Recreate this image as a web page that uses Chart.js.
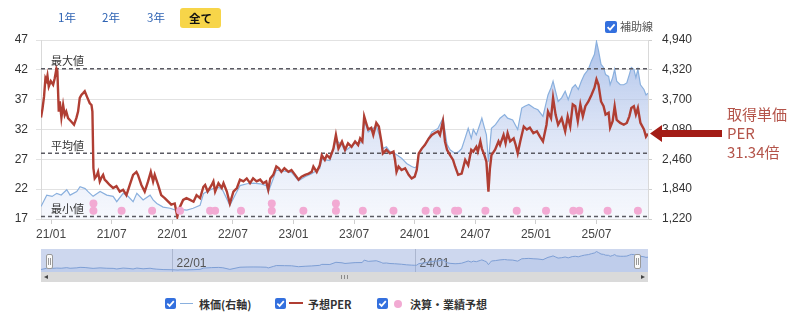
<!DOCTYPE html>
<html>
<head>
<meta charset="utf-8">
<script src="https://cdn.jsdelivr.net/npm/chart.js@4.4.1/dist/chart.umd.min.js"></script>
<style>
  body { margin: 0; background: #fff; font-family: 'Noto Sans CJK JP', 'Liberation Sans', sans-serif; }
  #wrap { position: relative; width: 800px; height: 326px; overflow: hidden; }
  #main { position: absolute; left: 0; top: 0; }
  #nav { position: absolute; left: 41px; top: 249px; }
  .rng { position: absolute; top: 9px; font-size: 11.5px; line-height: 16px; color: #2d62b3; }
  .all { left: 180px; top: 8px; width: 41px; height: 20px; line-height: 20px; background: #f7d549;
         border-radius: 3px; text-align: center; color: #111; font-weight: 700; }
  .cb { position: absolute; width: 12px; height: 12px; background: #3470de; border-radius: 2px; }
  .cb svg { display: block; }
  .txt { position: absolute; font-size: 11px; line-height: 14px; color: #333; white-space: nowrap; }
  .bold { font-weight: 600; }
  .handle { position: absolute; top: 254px; width: 5px; height: 13px; background: #fafafa;
            border: 1px solid #9a9a9a; border-radius: 2px; }
  .handle::before, .handle::after { content: ''; position: absolute; top: 3px; width: 1px; height: 7px; background: #9a9a9a; }
  .handle::before { left: 1px; } .handle::after { left: 3px; }
  #track { position: absolute; left: 41px; top: 272px; width: 607px; height: 10px; background: #dadada; }
  .tri { position: absolute; top: 3px; width: 0; height: 0; border-top: 2.5px solid transparent; border-bottom: 2.5px solid transparent; }
  .grip { position: absolute; top: 3px; width: 1px; height: 4px; background: #8a8a8a; }
</style>
</head>
<body>
<div id="wrap">
  <canvas id="main" width="800" height="245"></canvas>
  <canvas id="nav" width="607" height="23"></canvas>

  <div class="rng" style="left:58px">1年</div>
  <div class="rng" style="left:102px">2年</div>
  <div class="rng" style="left:147px">3年</div>
  <div class="rng all">全て</div>

  <div class="cb" style="left:605px;top:21px"><svg width="12" height="12"><path d="M2.6 6.2 L5 8.6 L9.6 3.4" stroke="#fff" stroke-width="1.8" fill="none"/></svg></div>
  <div class="txt" style="left:620px;top:19px;color:#555">補助線</div>

  <div class="handle" style="left:46px"></div>
  <div class="handle" style="left:634px"></div>
  <div id="track">
    <div class="tri" style="left:3px;border-right:4px solid #444"></div>
    <div class="grip" style="left:300px"></div>
    <div class="grip" style="left:303px"></div>
    <div class="grip" style="left:306px"></div>
    <div class="tri" style="left:600px;border-left:4px solid #444"></div>
  </div>

  <div class="cb" style="left:165px;top:298px;width:11px;height:11px"><svg width="11" height="11"><path d="M2.3 5.6 L4.6 7.9 L8.8 3.1" stroke="#fff" stroke-width="1.7" fill="none"/></svg></div>
  <div style="position:absolute;left:180px;top:302.5px;width:13px;height:1.5px;background:#8ab0de"></div>
  <div class="txt bold" style="left:199px;top:296.5px">株価(右軸)</div>

  <div class="cb" style="left:275px;top:298px;width:11px;height:11px"><svg width="11" height="11"><path d="M2.3 5.6 L4.6 7.9 L8.8 3.1" stroke="#fff" stroke-width="1.7" fill="none"/></svg></div>
  <div style="position:absolute;left:289px;top:302px;width:14px;height:2px;background:#b03e33"></div>
  <div class="txt bold" style="left:308px;top:296.5px">予想PER</div>

  <div class="cb" style="left:377px;top:298px;width:11px;height:11px"><svg width="11" height="11"><path d="M2.3 5.6 L4.6 7.9 L8.8 3.1" stroke="#fff" stroke-width="1.7" fill="none"/></svg></div>
  <div style="position:absolute;left:394px;top:299.5px;width:8px;height:8px;border-radius:50%;background:#f2aad3"></div>
  <div class="txt bold" style="left:410px;top:296.5px">決算・業績予想</div>
</div>

<script>
// Months counted from January 2021 (0 = 21/01)
const xTickMonths = [0, 6, 12, 18, 24, 30, 36, 42, 48, 54];
const xTickLabels = ['21/01', '21/07', '22/01', '22/07', '23/01', '23/07', '24/01', '24/07', '25/01', '25/07'];
const navTickMonths = [12, 36];
const navTickLabels = ['22/01', '24/01'];

// Forecast PER (left axis)
const perMonths = [-1.0,-0.85,-0.7,-0.56,-0.45,-0.36,-0.23,-0.03,0.2,0.36,0.53,0.62,0.76,0.86,1.02,1.19,1.35,1.5,1.68,2.01,2.27,2.5,2.67,2.84,3.0,3.17,3.33,3.6,3.83,4.0,4.09,4.19,4.32,4.5,4.65,4.82,5.0,5.15,5.3,5.48,5.8,6.14,6.47,6.8,7.13,7.46,7.79,8.12,8.45,8.6,8.94,9.27,9.6,9.87,10.1,10.26,10.6,10.9,11.25,11.6,11.9,12.24,12.5,12.7,13.07,13.4,13.76,14.1,14.4,14.75,15.08,15.25,15.5,15.9,16.07,16.24,16.57,16.9,17.07,17.4,17.7,18.05,18.4,18.7,19.04,19.37,19.7,20.0,20.35,20.7,21.0,21.3,21.5,21.7,22.0,22.3,22.55,22.8,23.1,23.5,23.8,24.16,24.5,24.8,25.15,25.5,25.8,25.97,26.3,26.6,26.8,27.1,27.3,27.6,27.95,28.2,28.45,28.8,29.1,29.4,29.75,30.1,30.4,30.6,30.82,31.0,31.25,31.4,31.7,31.9,32.2,32.45,32.7,32.85,33.2,33.55,33.9,34.05,34.2,34.4,34.7,35.05,35.4,35.7,36.0,36.2,36.4,36.7,37.0,37.4,37.7,38.0,38.3,38.5,38.8,39.0,39.2,39.5,39.8,40.0,40.3,40.65,41.0,41.3,41.6,41.8,42.1,42.25,42.5,42.65,42.9,43.1,43.3,43.45,43.6,43.96,44.3,44.45,44.8,45.0,45.2,45.45,45.8,46.0,46.2,46.45,46.8,47.1,47.4,47.75,48.1,48.4,48.7,49.05,49.2,49.5,49.7,49.95,50.2,50.55,50.9,51.15,51.4,51.65,51.9,52.15,52.4,52.65,52.9,53.2,53.5,53.8,54.0,54.2,54.45,54.7,54.9,55.2,55.35,55.6,55.8,56.0,56.35,56.7,57.0,57.25,57.45,57.7,57.9,58.1,58.35,58.7,58.9,59.1];
const perValues = [34.0,35.5,37.5,40.6,40.2,41.0,39.2,40.1,39.5,40.6,42.2,41.8,35.0,36.7,34.0,36.1,34.4,35.0,33.9,33.3,32.8,33.9,35.0,37.3,37.8,38.1,38.4,37.3,36.4,36.1,35.0,25.5,23.8,24.2,24.9,23.3,24.0,24.4,23.6,23.3,22.7,22.2,22.5,21.6,21.9,21.0,22.7,24.4,24.9,24.4,22.7,21.6,23.3,24.9,23.3,24.4,22.7,21.0,20.5,19.9,19.4,19.6,17.4,18.8,20.2,20.5,20.2,19.9,21.0,20.5,22.4,22.7,21.6,22.7,23.3,21.6,23.0,22.2,23.0,21.6,19.6,21.6,22.2,23.6,23.3,23.8,23.0,23.8,23.3,23.6,23.0,23.3,21.9,23.8,24.4,25.8,25.5,24.9,25.5,24.9,25.2,24.4,23.6,24.1,24.4,24.6,24.9,25.8,24.9,26.0,27.7,26.9,27.7,27.2,28.8,31.1,28.8,30.0,28.6,29.7,29.1,30.0,29.4,30.5,30.0,34.2,32.8,32.0,32.3,31.1,33.1,32.5,30.0,28.0,28.6,28.0,28.3,26.9,24.9,25.8,25.2,25.5,24.4,23.8,24.1,25.2,28.0,28.8,29.4,30.5,31.1,31.4,31.7,31.1,33.4,30.0,28.6,27.7,26.9,25.8,24.4,24.6,26.9,26.0,28.6,28.3,29.1,28.3,30.0,28.8,27.7,26.6,21.6,25.5,27.7,28.6,30.0,29.4,31.1,29.7,31.4,30.0,30.5,29.4,28.0,30.0,32.5,32.0,32.3,31.4,31.7,30.8,30.0,32.8,35.0,33.9,37.3,34.5,32.8,33.9,31.7,34.2,32.5,36.2,35.9,33.4,36.2,34.2,35.9,36.7,37.8,39.0,40.4,39.5,36.7,35.9,34.5,34.8,32.3,33.4,35.9,33.6,33.1,32.8,33.1,34.2,35.6,35.9,34.5,35.6,33.1,32.0,30.8,31.3];

// Share price in yen (right axis)
const priceMonths = [-1.0,-0.43,0.1,0.56,1.0,1.55,1.88,2.54,2.87,3.37,3.66,4.16,4.85,5.51,6.14,6.5,7.13,7.62,8.12,8.49,9.11,9.8,10.1,10.47,11.09,11.78,12.28,12.57,12.77,13.44,14.06,14.75,15.1,15.9,16.6,17.0,17.7,18.4,18.7,19.4,20.0,20.7,21.3,21.5,22.0,22.3,23.1,23.8,24.5,25.15,25.8,26.6,26.8,27.6,28.2,28.8,29.1,30.1,30.8,31.0,31.4,32.2,32.7,32.85,33.2,33.55,34.0,34.7,35.2,35.7,36.0,36.2,36.4,37.0,37.7,38.3,38.8,39.2,39.5,40.0,40.3,40.65,41.0,41.3,41.6,41.8,42.1,42.5,42.65,42.9,43.1,43.3,43.45,43.6,44.0,44.45,44.9,45.2,45.7,46.2,46.6,46.9,47.3,47.8,48.2,48.7,49.2,49.5,49.7,49.95,50.2,50.55,50.9,51.2,51.6,51.9,52.2,52.5,52.8,53.2,53.5,53.8,54.0,54.2,54.45,54.7,54.9,55.2,55.35,55.6,55.8,56.0,56.35,56.7,57.0,57.25,57.45,57.7,57.9,58.1,58.35,58.7,58.9,59.1];
const priceValues = [1480,1716,1690,1753,1720,1828,1716,1790,1890,1852,1790,1691,1790,1716,1691,1580,1753,1691,1580,1753,1617,1716,1617,1542,1468,1443,1406,1369,1418,1406,1443,1505,1753,1840,1877,1815,1505,1790,1914,1952,1964,1952,1914,1778,2063,2237,2212,2187,2014,2100,2162,2274,2460,2435,2857,2758,2634,2795,2807,3278,3030,3154,2832,2683,2720,2621,2584,2485,2373,2311,2286,2311,2584,2758,3028,3103,3314,2770,2658,2584,2609,2683,2906,3103,2894,3080,2968,3216,3316,3117,2968,2410,2758,3103,3180,3314,3390,3316,3278,3080,3526,3564,3601,3526,3489,3353,3799,3948,4084,3874,3663,3737,3874,3700,3948,4010,3911,4084,4221,4332,4506,4642,4911,4717,4432,4370,4221,4184,4010,4159,4332,4084,4010,4010,4047,4221,4370,4332,4159,4332,4010,3911,3799,3836];

// Earnings results / forecast revision dates (stack = how many on the same date, 0-based row)
const eventMonths = [4.19,4.19,6.98,10.0,12.77,15.74,16.24,18.8,21.85,21.85,24.98,28.2,28.2,30.86,33.9,37.08,38.19,40.0,40.3,43.0,46.1,49.0,51.7,52.3,55.1,58.1];
const eventStack  = [0,1,0,0,0,0,0,0,0,1,0,0,1,0,0,0,0,0,0,0,0,0,0,0,0,0];

const perAverage = 28.0;
const acquisitionPER = 31.34;

const guideValues = [Math.max(...perValues), perAverage, Math.min(...perValues)];
const guideLabels = ['最大値', '平均値', '最小値'];

// Row levels for the event markers, on the PER axis
const eventRowLevel = [18.4, 19.6];

const pts = (xs, ys) => xs.map((x, i) => ({ x, y: ys[i] }));
const X_MIN = -1, X_MAX = 59.1;

Chart.defaults.font.family = "'Liberation Sans', 'Noto Sans CJK JP', sans-serif";
Chart.defaults.font.size = 12;
Chart.defaults.color = '#333';

const guidePlugin = {
  id: 'guides',
  afterDatasetDraw(chart, args) {
    if (args.index !== 2) return;
    const { ctx, chartArea: a, scales: { y } } = chart;
    ctx.save();
    ctx.strokeStyle = '#5b5b63';
    ctx.lineWidth = 1.5;
    ctx.setLineDash([4, 3]);
    guideValues.forEach(v => {
      const py = y.getPixelForValue(v);
      ctx.beginPath();
      ctx.moveTo(a.left, py);
      ctx.lineTo(a.right, py);
      ctx.stroke();
    });
    ctx.restore();
  },
  afterDatasetsDraw(chart) {
    const { ctx, chartArea: a, scales: { y } } = chart;
    ctx.save();
    ctx.font = "11px 'Noto Sans CJK JP'";
    ctx.fillStyle = '#333';
    ctx.textBaseline = 'middle';
    guideValues.forEach((v, i) => {
      ctx.fillText(guideLabels[i], a.left + 10, y.getPixelForValue(v) - 7.5);
    });
    ctx.restore();
  },
  afterDraw(chart) {
    const { ctx, chartArea: a, scales: { y } } = chart;
    const py = y.getPixelForValue(acquisitionPER);
    const tip = a.right + 2;
    ctx.save();
    ctx.fillStyle = '#a31d16';
    ctx.beginPath();
    ctx.moveTo(tip, py);
    ctx.lineTo(tip + 12, py - 8.5);
    ctx.lineTo(tip + 12, py - 3.5);
    ctx.lineTo(tip + 72, py - 3.5);
    ctx.lineTo(tip + 72, py + 3.5);
    ctx.lineTo(tip + 12, py + 3.5);
    ctx.lineTo(tip + 12, py + 8.5);
    ctx.closePath();
    ctx.fill();
    ctx.font = "15px 'Noto Sans CJK JP'";
    ctx.fillStyle = '#b4544a';
    ctx.textBaseline = 'middle';
    ctx.fillText('取得単価', 727, py - 19);
    ctx.fillText('PER', 727, py);
    ctx.fillText(acquisitionPER.toFixed(2) + '倍', 727, py + 19);
    ctx.restore();
  }
};

new Chart(document.getElementById('main'), {
  type: 'line',
  data: {
    datasets: [
      {
        label: '決算・業績予想',
        data: eventMonths.map((m, i) => ({ x: m, y: eventRowLevel[eventStack[i]] })),
        showLine: false,
        pointRadius: 4,
        pointBackgroundColor: '#f2aad3',
        pointBorderWidth: 0,
        yAxisID: 'y',
        order: 0
      },
      {
        label: '予想PER',
        data: pts(perMonths, perValues),
        borderColor: '#b03e33',
        borderWidth: 2.4,
        pointRadius: 0,
        tension: 0,
        fill: false,
        yAxisID: 'y',
        order: 1
      },
      {
        label: '株価(右軸)',
        data: pts(priceMonths, priceValues),
        borderColor: '#8ab0de',
        borderWidth: 1.2,
        pointRadius: 0,
        tension: 0,
        fill: 'start',
        backgroundColor: (c) => {
          const a = c.chart.chartArea;
          if (!a) return 'rgba(0,0,0,0)';
          const g = c.chart.ctx.createLinearGradient(0, a.top, 0, a.bottom);
          g.addColorStop(0, 'rgba(150,177,228,0.8)');
          g.addColorStop(0.5, 'rgba(190,205,238,0.55)');
          g.addColorStop(1, 'rgba(225,232,248,0.3)');
          return g;
        },
        yAxisID: 'y1',
        order: 2
      }
    ]
  },
  options: {
    responsive: false,
    animation: false,
    events: [],
    layout: { padding: { top: 40, left: 0, right: 0, bottom: 0 } },
    plugins: { legend: { display: false }, tooltip: { enabled: false } },
    scales: {
      x: {
        type: 'linear',
        min: X_MIN,
        max: X_MAX,
        afterBuildTicks: (s) => { s.ticks = xTickMonths.map(v => ({ value: v })); },
        afterFit: (s) => { s.height = 26; },
        ticks: {
          autoSkip: false, maxRotation: 0, padding: 3, color: '#444',
          callback: (v, i) => xTickLabels[i]
        },
        grid: { drawOnChartArea: false, drawTicks: true, tickLength: 5, color: '#cfcfcf' },
        border: { display: true, color: '#d9d9d9' }
      },
      y: {
        position: 'left',
        min: 17, max: 47,
        afterFit: (s) => { s.width = 41; },
        ticks: { stepSize: 5, padding: 8, color: '#333' },
        grid: { color: '#e2e2e2', tickLength: 5 },
        border: { display: true, color: '#d9d9d9' }
      },
      y1: {
        position: 'right',
        min: 1220, max: 4940,
        afterFit: (s) => { s.width = 152; },
        ticks: { stepSize: 620, padding: 10, color: '#333', callback: (v) => v.toLocaleString('en-US') },
        grid: { drawOnChartArea: false, tickLength: 4, color: '#cfcfcf' },
        border: { display: true, color: '#d9d9d9' }
      }
    }
  },
  plugins: [guidePlugin]
});

// Range navigator below the main chart
const navPlugin = {
  id: 'navBand',
  beforeDatasetsDraw(chart) {
    const { ctx, chartArea: a, scales: { x } } = chart;
    ctx.save();
    ctx.fillStyle = '#cdd7ee';
    ctx.fillRect(a.left, a.top, a.right - a.left, a.bottom - a.top);
    ctx.strokeStyle = 'rgba(110,120,150,0.35)';
    ctx.lineWidth = 1;
    ctx.font = "12px 'Liberation Sans'";
    ctx.fillStyle = '#555';
    ctx.textBaseline = 'middle';
    navTickMonths.forEach((m, i) => {
      const px = Math.round(x.getPixelForValue(m)) + 0.5;
      ctx.beginPath();
      ctx.moveTo(px, a.top);
      ctx.lineTo(px, a.bottom);
      ctx.stroke();
      ctx.fillText(navTickLabels[i], px + 4, a.top + 15);
    });
    ctx.restore();
  }
};

new Chart(document.getElementById('nav'), {
  type: 'line',
  data: {
    datasets: [{
      data: pts(priceMonths, priceValues),
      borderColor: '#7e9fd5',
      borderWidth: 1,
      pointRadius: 0,
      tension: 0,
      fill: 'start',
      backgroundColor: 'rgba(130,160,220,0.18)'
    }]
  },
  options: {
    responsive: false,
    animation: false,
    events: [],
    layout: { padding: 0 },
    plugins: { legend: { display: false }, tooltip: { enabled: false } },
    scales: {
      x: { type: 'linear', display: false, min: X_MIN, max: X_MAX },
      y: { display: false, min: 1000, max: 5400 }
    }
  },
  plugins: [navPlugin]
});
</script>
</body>
</html>
